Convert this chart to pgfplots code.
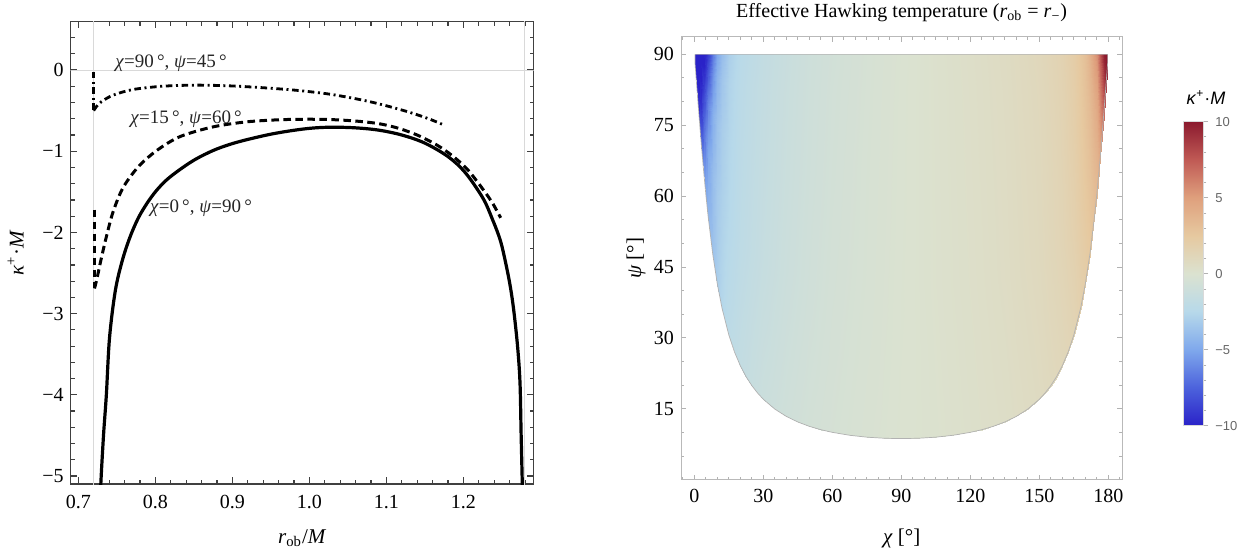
\documentclass[border=0pt]{standalone}
\usepackage{pgfplots}
\pgfplotsset{compat=1.18}
\usepackage{fontspec}
\setmainfont{Liberation Serif}
\newfontfamily\sansf{Liberation Sans}

\pgfplotsset{colormap={thermo}{rgb255(0cm)=(42,34,200) rgb255(1cm)=(76,98,220) rgb255(2cm)=(127,168,236) rgb255(3cm)=(183,217,234) rgb255(4cm)=(219,226,208) rgb255(5cm)=(230,201,160) rgb255(6cm)=(223,160,125) rgb255(7cm)=(192,90,85) rgb255(8cm)=(139,26,46)}}

\begin{document}
\begin{tikzpicture}
\path[use as bounding box] (0,0) rectangle (622.5pt,276pt);

% ---------------- left panel ----------------
\begin{axis}[
  at={(35.35pt,34pt)}, anchor=south west, scale only axis,
  width=231.5pt, height=231.1pt,
  xmin=0.6901, xmax=1.2914, ymin=-5.098, ymax=0.594,
  axis line style={black!75, line width=0.7pt},
  tick align=inside, tick style={black!75, line width=0.6pt},
  major tick length=3.3pt, minor tick length=2pt,
  xtick={0.7,0.8,0.9,1.0,1.1,1.2}, xticklabels={0.7,0.8,0.9,1.0,1.1,1.2},
  minor xtick={0.70,0.72,...,1.29},
  ytick={-5,-4,-3,-2,-1,0}, yticklabels={−5,−4,−3,−2,−1,0},
  minor ytick={-5,-4.8,...,0.6},
  tick label style={font=\fontsize{10}{12}\selectfont},
  xticklabel style={anchor=base, yshift=-12pt},
  label style={font=\fontsize{10.5}{12}\selectfont},
  xlabel={\textit{r}\textsubscript{ob}/\textit{M}},
  xlabel style={at={(axis description cs:0.5,-0.1277)}, anchor=base},
  ylabel={\textit{κ}\textsuperscript{+}·\textit{M}},
  ylabel style={at={(axis description cs:-0.119,0.5)}, anchor=center},
]
\addplot[gray!30, line width=0.5pt, forget plot] coordinates {(0.72,-6) (0.72,1)};
\addplot[gray!30, line width=0.5pt, forget plot] coordinates {(1.28,-6) (1.28,1)};
\addplot[gray!30, line width=0.5pt, forget plot] coordinates {(0.6,0) (1.4,0)};

% chi=0, psi=90
\addplot[black, line width=1.6pt, smooth, tension=0.55] coordinates {
(0.7285,-5.4) (0.7292,-5.1) (0.7327,-4.5) (0.7364,-4.0) (0.7405,-3.3)
(0.7480,-2.72) (0.7570,-2.35) (0.7670,-2.06) (0.7780,-1.82) (0.7900,-1.63)
(0.8018,-1.48) (0.8150,-1.35) (0.8320,-1.225) (0.8520,-1.10) (0.8753,-0.99)
(0.8970,-0.915) (0.9187,-0.858) (0.9500,-0.79) (0.9800,-0.742) (1.0050,-0.714)
(1.0300,-0.704) (1.0600,-0.712) (1.0900,-0.74) (1.1200,-0.80) (1.1500,-0.90)
(1.1807,-1.07) (1.2031,-1.27) (1.2256,-1.58) (1.2370,-1.82)
(1.2481,-2.10) (1.2560,-2.42) (1.2616,-2.70) (1.2660,-3.00) (1.2706,-3.42)
(1.2736,-3.85) (1.2751,-4.5) (1.2766,-5.1) (1.2773,-5.4)};

% chi=15, psi=60
\addplot[black, line width=1.5pt, dash pattern=on 3.8pt off 2.2pt] coordinates {
(0.7205,-1.72) (0.7205,-2.69)};
\addplot[black, line width=1.5pt, dash pattern=on 3.8pt off 2.2pt, smooth, tension=0.5] coordinates {
(0.7210,-2.69) (0.7240,-2.58) (0.7275,-2.42)
(0.7315,-2.25) (0.7365,-2.05) (0.7450,-1.75) (0.7580,-1.45) (0.7780,-1.19)
(0.8020,-0.99) (0.8320,-0.82) (0.8750,-0.70) (0.9187,-0.638) (0.9620,-0.612)
(1.0000,-0.606) (1.0300,-0.611) (1.0600,-0.628) (1.0900,-0.660) (1.1150,-0.715)
(1.1400,-0.80) (1.1650,-0.92) (1.1850,-1.05) (1.2050,-1.22) (1.2256,-1.47)
(1.2380,-1.64) (1.2485,-1.82)};

% chi=90, psi=45
\addplot[black, line width=1.4pt, dash pattern=on 3.3pt off 1.8pt on 1pt off 1.8pt] coordinates {
(0.7198,-0.02) (0.7198,-0.50)};
\addplot[black, line width=1.4pt, dash pattern=on 3.3pt off 1.8pt on 1pt off 1.8pt, smooth, tension=0.5] coordinates {
(0.7200,-0.50) (0.7235,-0.45) (0.7300,-0.39) (0.7450,-0.31)
(0.7710,-0.24) (0.8100,-0.199) (0.8537,-0.186) (0.8970,-0.195) (0.9400,-0.218)
(0.9836,-0.250) (1.0270,-0.298) (1.0700,-0.372) (1.1000,-0.44) (1.1300,-0.52)
(1.1550,-0.60) (1.1740,-0.674)};

\node[font=\fontsize{9.5}{10}\selectfont, text=black!85] at (axis cs:0.8204,0.083) {\textit{χ}=90\,°, \textit{ψ}=45\,°};
\node[font=\fontsize{9.5}{10}\selectfont, text=black!85] at (axis cs:0.840,-0.603) {\textit{χ}=15\,°, \textit{ψ}=60\,°};
\node[font=\fontsize{9.5}{10}\selectfont, text=black!85] at (axis cs:0.8593,-1.703) {\textit{χ}=0\,°, \textit{ψ}=90\,°};
\end{axis}

% ---------------- right panel ----------------
\begin{axis}[
  at={(340.5pt,36.15pt)}, anchor=south west, scale only axis,
  width=220.65pt, height=221.5pt,
  xmin=-5.8, xmax=186.1, ymin=0, ymax=93.74,
  axis line style={gray!55, line width=0.5pt},
  tick align=inside, tick style={gray!60, line width=0.5pt},
  major tick length=2.6pt, minor tick length=1.6pt,
  xtick={0,30,60,90,120,150,180}, xticklabels={0,30,60,90,120,150,180},
  minor xtick={-5,0,...,185},
  ytick={15,30,45,60,75,90}, yticklabels={15,30,45,60,75,90},
  minor ytick={0,5,...,90},
  tick label style={font=\fontsize{10}{12}\selectfont},
  xticklabel style={anchor=base, yshift=-11.45pt},
  label style={font=\fontsize{10.5}{12}\selectfont},
  xlabel={\textit{χ} [°]},
  xlabel style={at={(axis description cs:0.5,-0.1429)}, anchor=base},
  ylabel={\textit{ψ} [°]},
  ylabel style={at={(axis description cs:-0.102,0.5)}, anchor=center},
  title={Effective Hawking temperature (\textit{r}\textsubscript{ob} = \textit{r}\textsubscript{−})},
  title style={at={(axis description cs:0.5,1)}, anchor=base, yshift=3.8pt, font=\fontsize{10}{12}\selectfont},
  colormap name=thermo, point meta min=-10, point meta max=10,
  colorbar,
  colorbar style={
    at={(parent axis.south east)}, anchor=south west, xshift=21.96pt, yshift=27pt,
    scale only axis, width=10pt, height=152pt,
    ytick={-10,-5,0,5,10}, yticklabels={−10,−5,0,5,10},
    minor ytick={-10,-9,...,10},
    ytick pos=right, yticklabel pos=right,
    tick align=outside, major tick length=2.5pt, minor tick length=1.5pt,
    tick style={gray!60, line width=0.4pt},
    axis line style={gray!30, line width=0.3pt},
    yticklabel style={font=\sansf\fontsize{6.5}{7}\selectfont, text=black!60},
  },
]
\addplot[surf, shader=interp, mesh/cols=52, point meta=explicit] table[meta=v] {
x y v
0.3 88.04 -10
1 83.49 -10
2 77.15 -9.5
3 71.12 -7.2
4 65.49 -5.6
5 60.33 -4.8
6 55.66 -4.3
8 47.71 -3.6
10 41.38 -3.1
12 36.35 -2.6
15 30.59 -2.1
17.5 26.97 -1.9
20 24.10 -1.7
22.5 21.79 -1.55
25 19.90 -1.4
27.5 18.33 -1.27
30 17.01 -1.15
35 14.94 -1.0
40 13.39 -0.85
45 12.21 -0.72
50 11.29 -0.6
55 10.58 -0.51
60 10.02 -0.42
67.5 9.40 -0.31
75 9.00 -0.2
82.5 8.77 -0.11
90 8.70 -0.02
97.5 8.77 0.04
105 9.00 0.1
112.5 9.40 0.19
120 10.02 0.28
125 10.58 0.35
130 11.29 0.41
135 12.21 0.48
140 13.39 0.58
145 14.94 0.68
150 17.01 0.78
152.5 18.33 0.87
155 19.90 0.97
157.5 21.79 1.06
160 24.10 1.15
162.5 26.97 1.3
165 30.59 1.45
168 36.35 1.84
170 41.38 2.1
172 47.71 2.5
174 55.66 3.0
175 60.33 3.4
176.5 68.25 4.6
178 77.15 7.0
179 83.49 9.0
179.7 88.04 10

0.3 88.82 -10
1 86.09 -10
2 82.29 -10
3 78.67 -9.3
4 75.29 -7.2
5 72.20 -6.0
6 69.40 -5.0
8 64.63 -3.9
10 60.83 -3.3
12 57.81 -2.9
15 54.35 -2.5
17.5 52.18 -2.27
20 50.46 -2.05
22.5 49.07 -1.9
25 47.94 -1.75
27.5 47.00 -1.62
30 46.21 -1.5
35 44.96 -1.29
40 44.03 -1.1
45 43.33 -0.95
50 42.77 -0.8
55 42.35 -0.67
60 42.01 -0.55
67.5 41.64 -0.42
75 41.40 -0.3
82.5 41.26 -0.17
90 41.22 -0.05
97.5 41.26 0.05
105 41.40 0.15
112.5 41.64 0.25
120 42.01 0.35
125 42.35 0.43
130 42.77 0.52
135 43.33 0.6
140 44.03 0.72
145 44.96 0.83
150 46.21 0.95
152.5 47.00 1.06
155 47.94 1.18
157.5 49.07 1.29
160 50.46 1.4
162.5 52.18 1.6
165 54.35 1.8
168 57.81 2.22
170 60.83 2.5
172 64.63 2.95
174 69.40 3.6
175 72.20 4.1
176.5 76.95 5.6
178 82.29 8.2
179 86.09 9.8
179.7 88.82 10

0.3 89.41 -10
1 88.05 -10
2 86.15 -10
3 84.34 -10
4 82.65 -8.8
5 81.10 -7.6
6 79.70 -6.3
8 77.31 -4.6
10 75.41 -3.7
12 73.91 -3.1
15 72.18 -2.65
17.5 71.09 -2.4
20 70.23 -2.15
22.5 69.54 -2.0
25 68.97 -1.85
27.5 68.50 -1.72
30 68.10 -1.6
35 67.48 -1.39
40 67.02 -1.2
45 66.66 -1.03
50 66.39 -0.88
55 66.17 -0.75
60 66.01 -0.62
67.5 65.82 -0.47
75 65.70 -0.33
82.5 65.63 -0.2
90 65.61 -0.07
97.5 65.63 0.05
105 65.70 0.16
112.5 65.82 0.27
120 66.01 0.38
125 66.17 0.47
130 66.39 0.55
135 66.66 0.64
140 67.02 0.76
145 67.48 0.88
150 68.10 1.0
152.5 68.50 1.12
155 68.97 1.24
157.5 69.54 1.36
160 70.23 1.48
162.5 71.09 1.72
165 72.18 1.95
168 73.91 2.43
170 75.41 2.8
172 77.31 3.35
174 79.70 4.1
175 81.10 4.7
176.5 83.48 6.5
178 86.15 9.0
179 88.05 10
179.7 89.41 10

0.3 89.80 -10
1 89.35 -10
2 88.72 -10
3 88.11 -10
4 87.55 -10
5 87.03 -9.2
6 86.57 -8.0
8 85.77 -5.8
10 85.14 -4.4
12 84.64 -3.5
15 84.06 -2.8
17.5 83.70 -2.5
20 83.41 -2.25
22.5 83.18 -2.07
25 82.99 -1.9
27.5 82.83 -1.77
30 82.70 -1.65
35 82.49 -1.44
40 82.34 -1.25
45 82.22 -1.08
50 82.13 -0.92
55 82.06 -0.79
60 82.00 -0.66
67.5 81.94 -0.51
75 81.90 -0.36
82.5 81.88 -0.22
90 81.87 -0.08
97.5 81.88 0.05
105 81.90 0.17
112.5 81.94 0.28
120 82.00 0.4
125 82.06 0.49
130 82.13 0.58
135 82.22 0.67
140 82.34 0.8
145 82.49 0.92
150 82.70 1.05
152.5 82.83 1.18
155 82.99 1.3
157.5 83.18 1.43
160 83.41 1.55
162.5 83.70 1.8
165 84.06 2.05
168 84.64 2.59
170 85.14 3.0
172 85.77 3.75
174 86.57 4.7
175 87.03 5.3
176.5 87.83 7.2
178 88.72 9.6
179 89.35 10
179.7 89.80 10

0.3 90 -10
1 90 -10
2 90 -10
3 90 -10
4 90 -10
5 90 -9.8
6 90 -9.0
8 90 -6.6
10 90 -5.0
12 90 -3.9
15 90 -3.0
17.5 90 -2.65
20 90 -2.35
22.5 90 -2.17
25 90 -2.0
27.5 90 -1.85
30 90 -1.7
35 90 -1.5
40 90 -1.3
45 90 -1.12
50 90 -0.95
55 90 -0.82
60 90 -0.7
67.5 90 -0.54
75 90 -0.38
82.5 90 -0.24
90 90 -0.1
97.5 90 0.04
105 90 0.18
112.5 90 0.3
120 90 0.42
125 90 0.51
130 90 0.61
135 90 0.7
140 90 0.83
145 90 0.97
150 90 1.1
152.5 90 1.23
155 90 1.35
157.5 90 1.48
160 90 1.6
162.5 90 1.88
165 90 2.15
168 90 2.71
170 90 3.1
172 90 4.0
174 90 5.0
175 90 5.7
176.5 90 7.6
178 90 9.8
179 90 10
179.7 90 10
};
\addplot[gray!60, line width=0.35pt] coordinates {
(0.3,90) (0.3,88.04) (1,83.49) (2,77.15) (3,71.12) (4,65.49) (5,60.33) (6,55.66)
(8,47.71) (10,41.38) (12,36.35) (15,30.59) (17.5,26.97) (20,24.10) (22.5,21.79)
(25,19.90) (27.5,18.33) (30,17.01) (35,14.94) (40,13.39) (45,12.21) (50,11.29)
(55,10.58) (60,10.02) (67.5,9.40) (75,9.00) (82.5,8.77) (90,8.70) (97.5,8.77)
(105,9.00) (112.5,9.40) (120,10.02) (125,10.58) (130,11.29) (135,12.21)
(140,13.39) (145,14.94) (150,17.01) (152.5,18.33) (155,19.90) (157.5,21.79)
(160,24.10) (162.5,26.97) (165,30.59) (168,36.35) (170,41.38) (172,47.71)
(174,55.66) (175,60.33) (176.5,68.25) (178,77.15) (179,83.49) (179.7,88.04)
(179.7,90) (0.3,90)};
\end{axis}

\node[font=\sansf\fontsize{9}{10}\selectfont] at (603pt,227.2pt) {\textit{κ}\textsuperscript{+}·\textit{M}};
\end{tikzpicture}
\end{document}
